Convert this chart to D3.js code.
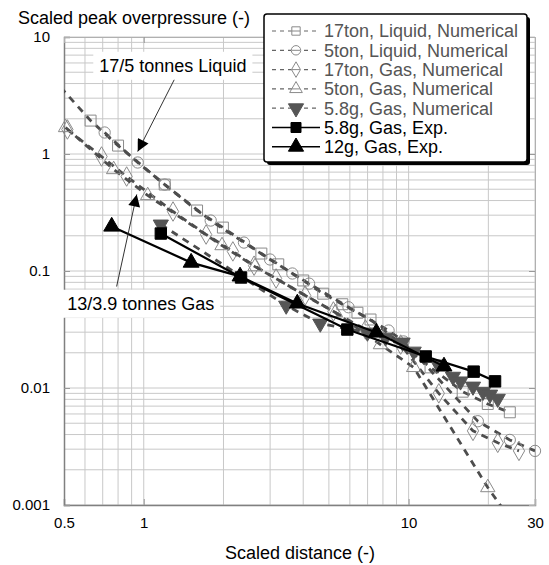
<!DOCTYPE html>
<html>
<head>
<meta charset="utf-8">
<script src="https://cdn.jsdelivr.net/npm/d3@7"></script>
<style>
  body { margin: 0; background: #fff; }
  svg text { font-family: "Liberation Sans", Arial, sans-serif; }
</style>
</head>
<body>
<div id="chart"></div>
<script>
// Series data: [scaled distance, scaled peak overpressure]
const liquid17 = [[0.45,4.5],[0.63,1.93],[0.80,1.18],[1.20,0.548],[1.59,0.329],[1.99,0.235],[2.78,0.141],[3.22,0.114],[4.0,0.083],[4.76,0.064],[5.62,0.052],[6.41,0.044],[7.18,0.0385],[12.1,0.015],[16.0,0.0093],[19.9,0.0073],[24.1,0.0062]];
const liquid5 = [[0.712,1.527],[0.949,0.846],[1.20,0.548],[1.79,0.270],[2.39,0.175],[3.0,0.1254],[3.64,0.0952],[4.21,0.078],[5.93,0.049],[8.40,0.031],[9.57,0.025],[18.25,0.0052],[24.1,0.0036],[30,0.0029]];
const gas17 = [[0.515,1.62],[0.693,0.952],[0.862,0.642],[1.29,0.3225],[1.72,0.205],[2.17,0.147],[2.61,0.111],[3.16,0.0863],[4.07,0.0617],[5.2,0.0451],[6.87,0.0316],[9.33,0.0235],[13.0,0.009],[17.5,0.0043],[21.7,0.0034],[26.1,0.0029]];
const gas5 = [[0.507,1.685],[0.77,0.737],[1.035,0.442],[1.975,0.165],[2.63,0.109],[5.29,0.0442],[7.83,0.0235],[10.45,0.015],[19.9,0.00141],[26.6,0.00056]];
const gas58num = [[1.16,0.25],[3.45,0.0507],[4.64,0.0356],[6.99,0.0298],[8.18,0.027],[9.49,0.0245],[10.45,0.0205],[12.9,0.0159],[14.7,0.0125],[15.7,0.0114],[17.5,0.0103],[19.1,0.0093],[20.3,0.0088],[21.7,0.0081]];
const exp58 = [[1.16,0.209],[2.33,0.088],[5.87,0.0316],[11.6,0.0186],[17.6,0.0138],[21.2,0.0114]];
const exp12 = [[0.757,0.24],[1.51,0.118],[2.31,0.09],[3.8,0.0528],[7.56,0.0298],[13.6,0.0153]];

const seriesNames = ["17ton, Liquid, Numerical", "5ton, Liquid, Numerical", "17ton, Gas, Numerical",
  "5ton, Gas, Numerical", "5.8g, Gas, Numerical", "5.8g, Gas, Exp.", "12g, Gas, Exp."];

const xTicks = [0.5, 1, 10, 30];
const xTickLabels = ["0.5", "1", "10", "30"];
const yTicks = [0.001, 0.01, 0.1, 1, 10];
const yTickLabels = ["0.001", "0.01", "0.1", "1", "10"];

// Series styles
const series = [
  {name: seriesNames[0], data: liquid17, symbol: d3.symbolSquare, size: 120, fill: "none", stroke: "#8a8a8a", dashed: true, text: "#555"},
  {name: seriesNames[1], data: liquid5, symbol: d3.symbolCircle, size: 100, fill: "none", stroke: "#8a8a8a", dashed: true, text: "#555"},
  {name: seriesNames[2], data: gas17, symbol: d3.symbolDiamond, size: 110, fill: "none", stroke: "#8a8a8a", dashed: true, text: "#555"},
  {name: seriesNames[3], data: gas5, symbol: d3.symbolTriangle, size: 90, fill: "none", stroke: "#8a8a8a", dashed: true, text: "#555"},
  {name: seriesNames[4], data: gas58num, symbol: d3.symbolTriangle, size: 100, fill: "#555", stroke: "#555", dashed: true, text: "#555", rot: 180},
  {name: seriesNames[5], data: exp58, symbol: d3.symbolSquare, size: 130, fill: "#000", stroke: "#000", dashed: false, text: "#000"},
  {name: seriesNames[6], data: exp12, symbol: d3.symbolTriangle, size: 110, fill: "#000", stroke: "#000", dashed: false, text: "#000"}
];

const W = 549, H = 565;
const plot = {left: 64, right: 535, top: 37, bottom: 505};

const svg = d3.select("#chart").append("svg")
  .attr("width", W).attr("height", H);

const xScale = d3.scaleLog().domain([0.5, 30]).range([plot.left, plot.right]);
const yScale = d3.scaleLog().domain([0.001, 10]).range([plot.bottom, plot.top]);

// Grid lines
const xGrid = [];
[0.1, 1, 10].forEach(dec => { for (let k = 1; k <= 9; k++) { const v = +(k * dec).toPrecision(3); if (v > 0.5 && v <= 30) xGrid.push(v); } });
const yGrid = [];
[0.001, 0.01, 0.1, 1].forEach(dec => { for (let k = 1; k <= 9; k++) yGrid.push(+(k * dec).toPrecision(3)); });
yGrid.push(10);

svg.append("g").selectAll("line").data(xGrid).enter().append("line")
  .attr("x1", d => xScale(d)).attr("x2", d => xScale(d))
  .attr("y1", plot.top).attr("y2", plot.bottom)
  .attr("stroke", "#c8c8c8").attr("stroke-width", 1);

svg.append("g").selectAll("line").data(yGrid).enter().append("line")
  .attr("x1", plot.left).attr("x2", plot.right)
  .attr("y1", d => yScale(d)).attr("y2", d => yScale(d))
  .attr("stroke", "#c8c8c8").attr("stroke-width", 1);

// Axes (ticks point into the plot)
const xAxis = svg.append("g")
  .attr("transform", `translate(0,${plot.bottom})`)
  .call(d3.axisBottom(xScale).tickValues(xTicks).tickSize(-6).tickPadding(12)
    .tickFormat((d, i) => xTickLabels[i]));
const yAxis = svg.append("g")
  .attr("transform", `translate(${plot.left},0)`)
  .call(d3.axisLeft(yScale).tickValues(yTicks).tickSize(-6).tickPadding(14)
    .tickFormat((d, i) => yTickLabels[i]));
const xTop = svg.append("g")
  .attr("transform", `translate(0,${plot.top})`)
  .call(d3.axisTop(xScale).tickValues(xTicks.slice(1, 3)).tickSize(-6).tickFormat(""));
const yRight = svg.append("g")
  .attr("transform", `translate(${plot.right},0)`)
  .call(d3.axisRight(yScale).tickValues(yTicks.slice(1, 4)).tickSize(-6).tickFormat(""));

[xAxis, yAxis].forEach(g => {
  g.select(".domain").attr("stroke", "#808080").attr("stroke-width", 1.5);
  g.selectAll(".tick line").attr("stroke", "#999");
  g.selectAll(".tick text").style("font-size", "15px").attr("fill", "#000");
});
[xTop, yRight].forEach(g => {
  g.select(".domain").attr("stroke", "#b0b0b0");
  g.selectAll(".tick line").attr("stroke", "#999");
});

// Axis titles
svg.append("text")
  .attr("x", 18).attr("y", 24)
  .style("font-size", "18px")
  .text("Scaled peak overpressure (-)");

svg.append("text")
  .attr("x", 300).attr("y", 559)
  .attr("text-anchor", "middle")
  .style("font-size", "18px")
  .text("Scaled distance (-)");

// Clip for lines
svg.append("clipPath").attr("id", "clip")
  .append("rect")
  .attr("x", plot.left).attr("y", plot.top)
  .attr("width", plot.right - plot.left).attr("height", plot.bottom - plot.top);

const line = d3.line().x(d => xScale(d[0])).y(d => yScale(d[1]));
const inDomain = d => d[0] >= 0.5 && d[0] <= 30 && d[1] >= 0.001 && d[1] <= 10;

// draw order: numerical series first, then 12g exp, then 5.8g exp on top
const drawOrder = [0, 1, 2, 3, 4, 6, 5];
drawOrder.forEach(i => {
  const s = series[i];
  svg.append("path")
    .datum(s.data)
    .attr("clip-path", "url(#clip)")
    .attr("fill", "none")
    .attr("stroke", s.dashed ? "#4d4d4d" : "#000")
    .attr("stroke-width", s.dashed ? 2.8 : 2.2)
    .attr("stroke-dasharray", s.dashed ? "7,6" : null)
    .attr("d", line);

  svg.append("g").selectAll("path")
    .data(s.data.filter(inDomain))
    .enter().append("path")
    .attr("transform", d => `translate(${xScale(d[0])},${yScale(d[1])}) rotate(${s.rot || 0})`)
    .attr("d", d3.symbol().type(s.symbol).size(s.size))
    .attr("fill", s.fill)
    .attr("stroke", s.stroke)
    .attr("stroke-width", 1);
});

// Annotations with arrows
const defs = svg.append("defs");
defs.append("marker")
  .attr("id", "arrow")
  .attr("viewBox", "0 0 10 10")
  .attr("refX", 10).attr("refY", 5)
  .attr("markerWidth", 14).attr("markerHeight", 12)
  .attr("markerUnits", "userSpaceOnUse")
  .attr("orient", "auto")
  .append("path")
  .attr("d", "M0,0 L10,5 L0,10 Z")
  .attr("fill", "#000");

const annotations = [
  {text: "17/5 tonnes Liquid", tx: 1.288, ty: 5.71, x1: 1.334, y1: 4.78, x2: 0.949, y2: 1.05},
  {text: "13/3.9 tonnes Gas", tx: 0.974, ty: 0.0528, x1: 0.79, y1: 0.0737, x2: 0.941, y2: 0.451}
];

annotations.forEach(a => {
  svg.append("line")
    .attr("x1", xScale(a.x1)).attr("y1", yScale(a.y1))
    .attr("x2", xScale(a.x2)).attr("y2", yScale(a.y2))
    .attr("stroke", "#333").attr("stroke-width", 1)
    .attr("marker-end", "url(#arrow)");
  const g = svg.append("g");
  const rect = g.append("rect").attr("fill", "#fff");
  const t = g.append("text")
    .attr("x", xScale(a.tx)).attr("y", yScale(a.ty))
    .attr("text-anchor", "middle")
    .attr("dy", "0.35em")
    .style("font-size", "18px")
    .text(a.text);
  const bb = t.node().getBBox();
  rect.attr("x", bb.x - 6).attr("y", bb.y - 4)
    .attr("width", bb.width + 12).attr("height", bb.height + 8);
});

// Legend
const legend = svg.append("g").attr("transform", "translate(264,14)");
const lw = 263, lh = 148;
legend.append("rect")
  .attr("x", 3).attr("y", 3).attr("width", lw).attr("height", lh)
  .attr("rx", 3).attr("fill", "#000");
legend.append("rect")
  .attr("width", lw).attr("height", lh)
  .attr("rx", 3).attr("fill", "#fff")
  .attr("stroke", "#000").attr("stroke-width", 1.5);

series.forEach((s, i) => {
  const row = legend.append("g").attr("transform", `translate(0, ${17 + i * 19.3})`);
  row.append("line")
    .attr("x1", 8).attr("x2", 56)
    .attr("stroke", s.dashed ? "#666" : "#000")
    .attr("stroke-width", s.dashed ? 1.2 : 1.6)
    .attr("stroke-dasharray", s.dashed ? "4,4" : null);
  row.append("path")
    .attr("transform", `translate(32,0) rotate(${s.rot || 0})`)
    .attr("d", d3.symbol().type(s.symbol).size(s.dashed && s.fill === "none" ? 70 : 100))
    .attr("fill", s.fill === "none" ? "#fff" : s.fill)
    .attr("stroke", s.stroke)
    .attr("stroke-width", 1);
  if (s.fill === "none") {
    row.append("line").attr("x1", 28).attr("x2", 36)
      .attr("stroke", "#888").attr("stroke-width", 1);
  }
  row.append("text")
    .attr("x", 60).attr("y", 0)
    .attr("dy", "0.35em")
    .style("font-size", "18px")
    .attr("fill", s.text)
    .text(s.name);
});
</script>
</body>
</html>
